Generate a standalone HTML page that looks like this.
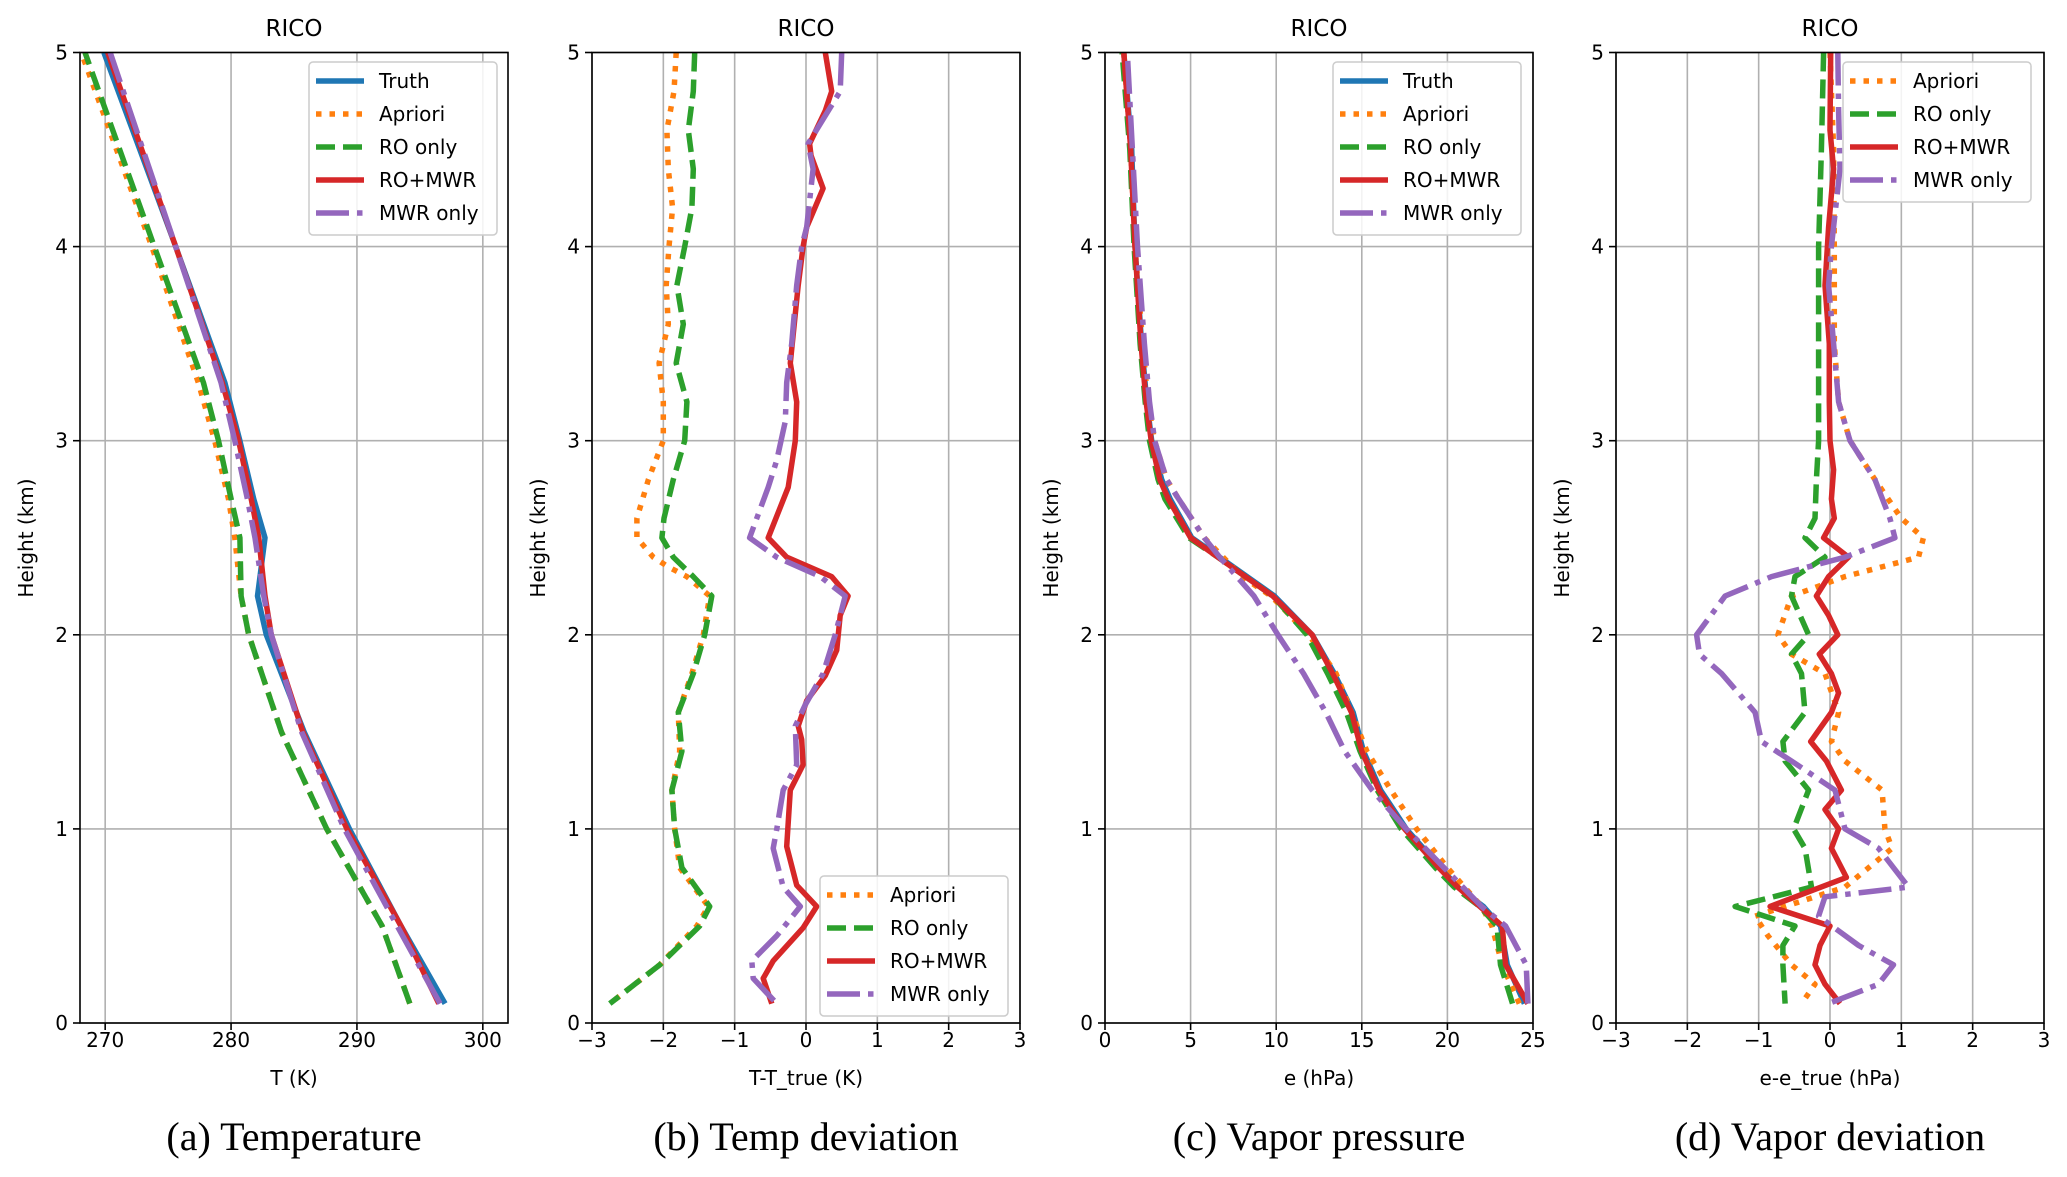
<!DOCTYPE html>
<html><head><meta charset="utf-8">
<style>
html,body{margin:0;padding:0;background:#fff;}
svg{display:block;}
text{font-family:"DejaVu Sans","Liberation Sans",sans-serif;fill:#000;}
.cap{font-family:"Liberation Serif",serif;}
</style></head>
<body>
<svg id="fig" width="2067" height="1177" viewBox="0 0 2067 1177" xmlns="http://www.w3.org/2000/svg"></svg>
<script>
// ---------- Panel (a) Temperature ----------
const tempHeights = [0.1,0.5,1.0,1.5,2.0,2.2,2.5,2.7,3.0,3.3,4.0,5.0];
const tempTruth   = [297.0,293.5,289.4,285.8,282.8,282.1,282.7,281.8,280.7,279.5,275.6,269.9];
const tempApriori = [294.2,292.0,287.6,284.0,281.4,280.8,280.3,279.8,278.7,277.4,273.7,268.1];
const tempRO      = [294.2,292.0,287.6,284.0,281.4,280.8,280.7,280.0,279.0,277.8,273.9,268.4];
const tempROMWR   = [296.5,293.5,289.2,285.7,283.2,282.7,282.2,281.6,280.6,279.3,275.6,270.2];
const tempMWR     = [296.6,293.2,289.0,285.6,283.2,282.6,281.9,281.3,280.3,279.2,275.6,270.4];
const tempTicks = [270,280,290,300];

// ---------- Panel (b) Temp deviation ----------
const dTAprioriH = [5.0,4.8,4.6,4.4,4.2,4.0,3.8,3.6,3.4,3.2,3.0,2.8,2.6,2.5,2.4,2.35,2.3,2.2,2.0,1.8,1.6,1.4,1.2,1.0,0.8,0.6,0.5,0.3,0.1];
const dTApriori  = [-1.82,-1.85,-1.95,-1.93,-1.87,-1.92,-1.96,-1.93,-2.06,-2.0,-2.0,-2.21,-2.37,-2.37,-2.14,-1.93,-1.67,-1.35,-1.44,-1.6,-1.79,-1.77,-1.88,-1.84,-1.77,-1.37,-1.53,-2.05,-2.75];
const dTROH = [5.0,4.8,4.6,4.4,4.2,4.0,3.8,3.6,3.4,3.2,3.0,2.8,2.6,2.5,2.4,2.3,2.2,2.0,1.8,1.6,1.4,1.2,1.0,0.8,0.6,0.5,0.3,0.1];
const dTRO  = [-1.56,-1.58,-1.65,-1.58,-1.6,-1.7,-1.81,-1.72,-1.82,-1.67,-1.7,-1.86,-1.99,-2.02,-1.86,-1.58,-1.32,-1.42,-1.58,-1.79,-1.74,-1.88,-1.84,-1.74,-1.35,-1.49,-2.05,-2.75];
const dTROMWRH = [5.0,4.8,4.7,4.53,4.47,4.3,4.1,4.0,3.8,3.4,3.2,3.0,2.76,2.5,2.4,2.3,2.2,2.1,1.92,1.79,1.66,1.53,1.46,1.33,1.2,0.91,0.71,0.6,0.49,0.32,0.23,0.1];
const dTROMWR  = [0.27,0.36,0.27,0.05,0.07,0.24,0.01,-0.04,-0.11,-0.22,-0.13,-0.15,-0.25,-0.53,-0.27,0.36,0.59,0.48,0.43,0.27,0.01,-0.11,-0.06,-0.04,-0.22,-0.27,-0.13,0.15,-0.04,-0.46,-0.6,-0.48];
const dTMWRH = [5.0,4.8,4.53,4.4,4.1,4.0,3.8,3.5,3.3,3.1,2.9,2.76,2.5,2.4,2.3,2.2,2.0,1.8,1.64,1.53,1.33,1.2,1.0,0.9,0.7,0.6,0.45,0.32,0.23,0.1];
const dTMWR  = [0.5,0.48,0.03,0.1,0.01,-0.06,-0.13,-0.2,-0.27,-0.29,-0.41,-0.53,-0.79,-0.41,0.2,0.55,0.41,0.24,-0.01,-0.15,-0.13,-0.32,-0.41,-0.46,-0.32,-0.08,-0.41,-0.76,-0.74,-0.41];
const devTicks = [-3,-2,-1,0,1,2,3];

// ---------- Panel (c) Vapor pressure ----------
const vapHeights = [0.1,0.3,0.5,0.6,0.7,0.8,1.0,1.2,1.4,1.6,1.8,2.0,2.2,2.3,2.4,2.5,2.7,2.8,3.0,3.2,3.5,4.0,4.5,5.0];
const vapTruth   = [24.5,23.5,23.1,22.1,20.6,19.6,17.6,16.1,15.1,14.5,13.4,12.1,9.9,8.3,6.7,5.07,3.8,3.31,2.73,2.44,2.14,1.75,1.56,1.1];
const vapApriori = [24.2,23.2,22.6,22.0,21.0,20.0,18.2,16.7,15.3,14.4,13.5,11.9,9.7,8.0,6.9,5.8,4.3,3.6,2.9,2.5,2.2,1.75,1.5,1.1];
const vapRO      = [23.8,23.1,22.9,21.9,20.4,19.3,17.3,15.9,14.9,14.1,13.0,11.8,9.8,8.2,6.6,4.9,3.5,3.1,2.6,2.35,2.05,1.7,1.45,1.0];
const vapROMWR   = [24.7,23.4,23.2,21.9,20.6,19.5,17.5,16.0,15.0,14.4,13.3,12.1,9.8,8.2,6.6,5.0,3.7,3.2,2.7,2.4,2.1,1.75,1.5,1.1];
const vapMWR     = [24.7,24.6,23.4,22.0,20.9,19.8,17.6,15.6,14.0,12.9,11.6,10.1,8.7,7.7,6.7,5.8,4.3,3.6,2.9,2.6,2.3,1.9,1.6,1.3];
const vapTicks = [0,5,10,15,20,25];

// ---------- Panel (d) Vapor deviation ----------
const dEAprioriH = [5.0,4.5,4.0,3.5,3.2,3.0,2.8,2.6,2.5,2.4,2.3,2.2,2.0,1.9,1.8,1.6,1.45,1.35,1.2,1.0,0.9,0.7,0.55,0.45,0.3,0.2,0.1];
const dEApriori  = [0,0.05,0.06,0.06,0.12,0.28,0.63,1.0,1.31,1.24,0.21,-0.54,-0.73,-0.54,-0.07,0.12,0.02,0.21,0.73,0.77,0.87,0.21,-1.05,-0.87,-0.54,-0.21,-0.4];
const dEROH = [5.0,4.5,4.0,3.5,3.0,2.8,2.6,2.5,2.4,2.3,2.2,2.0,1.9,1.8,1.6,1.45,1.35,1.2,1.0,0.9,0.7,0.6,0.5,0.4,0.3,0.1];
const dERO  = [-0.09,-0.12,-0.16,-0.16,-0.16,-0.19,-0.21,-0.35,-0.07,-0.49,-0.54,-0.3,-0.54,-0.4,-0.35,-0.66,-0.63,-0.3,-0.51,-0.35,-0.26,-1.33,-0.49,-0.66,-0.66,-0.63];
const dEROMWRH = [5.0,4.6,4.4,4.1,3.8,3.5,3.2,3.0,2.85,2.7,2.6,2.5,2.4,2.3,2.2,2.1,2.0,1.9,1.8,1.7,1.6,1.45,1.35,1.2,1.1,1.0,0.9,0.75,0.6,0.5,0.4,0.3,0.2,0.1];
const dEROMWR  = [0.01,0,0.05,-0.02,-0.07,-0.01,-0.01,0,0.05,0.02,0.06,-0.09,0.26,-0.02,-0.19,-0.02,0.11,-0.15,0.02,0.12,0.02,-0.27,-0.05,0.16,-0.07,0.12,0.02,0.23,-0.84,0,-0.14,-0.21,-0.07,0.14];
const dEMWRH = [5.0,4.7,4.4,4.0,3.8,3.5,3.2,3.0,2.8,2.6,2.5,2.4,2.3,2.2,2.0,1.9,1.8,1.6,1.45,1.35,1.2,1.0,0.9,0.7,0.65,0.55,0.4,0.3,0.2,0.1];
const dEMWR  = [0.11,0.12,0.14,0.02,-0.02,0.05,0.12,0.28,0.63,0.84,0.91,0.21,-0.82,-1.47,-1.87,-1.83,-1.52,-1.05,-0.96,-0.54,0.07,0.21,0.68,1.1,-0.07,-0.16,0.4,0.89,0.68,-0.02];

const heightTicks = [0,1,2,3,4,5];

const NS = 'http://www.w3.org/2000/svg';
const svg = document.getElementById('fig');
const TOP = 52.5, BOT = 1023;
const STY = {
  truth:  {c:'#1f77b4', d:null, label:'Truth'},
  apriori:{c:'#ff7f0e', d:'5.5 8', label:'Apriori'},
  ro:     {c:'#2ca02c', d:'19 8', label:'RO only'},
  romwr:  {c:'#d62728', d:null, label:'RO+MWR'},
  mwr:    {c:'#9467bd', d:'33 8 5.5 8', label:'MWR only'}
};
function mk(tag, attrs, parent){
  const e = document.createElementNS(NS, tag);
  for (const k in attrs) e.setAttribute(k, attrs[k]);
  (parent||svg).appendChild(e);
  return e;
}
function panel(p){
  const g = mk('g', {});
  
  
  const L = p.left, R = p.left + 428;
  const xs = v => L + (v - p.xmin) / (p.xmax - p.xmin) * (R - L);
  const ys = h => BOT - h / 5 * (BOT - TOP);
  p.xticks.forEach(t => {
    const gl = mk('line', {x1:xs(t), x2:xs(t), y1:TOP, y2:BOT, stroke:'#b0b0b0', 'stroke-width':1.6}, g);
    
    
  });
  heightTicks.forEach(t => {
    const gl = mk('line', {x1:L, x2:R, y1:ys(t), y2:ys(t), stroke:'#b0b0b0', 'stroke-width':1.6}, g);
    
    
  });
  const cp = mk('clipPath', {id:'clip-' + p.id}, g);
  mk('rect', {x:L, y:TOP, width:R-L, height:BOT-TOP}, cp);
  const sg = mk('g', {'clip-path':'url(#clip-' + p.id + ')'}, g);
  p.series.forEach(s => {
    const st = STY[s.key];
    const pts = s.h.map((h, i) => xs(s.v[i]).toFixed(1) + ',' + ys(h).toFixed(1)).join(' ');
    const attrs = {points:pts, fill:'none', stroke:st.c, 'stroke-width':5.5, 'stroke-linejoin':'round'};
    if (st.d) attrs['stroke-dasharray'] = st.d;
    const pl = mk('polyline', attrs, sg);
    
    
  });
  const fr = mk('rect', {x:L, y:TOP, width:R-L, height:BOT-TOP, fill:'none', stroke:'#000', 'stroke-width':1.6}, g);
  
  
  p.xticks.forEach(t => {
    mk('line', {x1:xs(t), x2:xs(t), y1:BOT, y2:BOT+7, stroke:'#000', 'stroke-width':1.6}, g);
    const tl = mk('text', {x:xs(t), y:1047, 'font-size':20, 'text-anchor':'middle'}, g);
    tl.textContent = t < 0 ? '\u2212' + Math.abs(t) : String(t);
    
    
  });
  heightTicks.forEach(t => {
    mk('line', {x1:L-7, x2:L, y1:ys(t), y2:ys(t), stroke:'#000', 'stroke-width':1.6}, g);
    const tl = mk('text', {x:L-12, y:ys(t)+7, 'font-size':20, 'text-anchor':'end'}, g);
    tl.textContent = String(t);
    
    
  });
  const cx = (L + R) / 2;
  const ti = mk('text', {x:cx, y:36, 'font-size':23, 'text-anchor':'middle'}, g);
  ti.textContent = 'RICO';
  
  
  const xl = mk('text', {x:cx, y:1085, 'font-size':20, 'text-anchor':'middle'}, g);
  xl.textContent = p.xlabel;
  
  
  const yl = mk('text', {x:0, y:0, 'font-size':20, 'text-anchor':'middle', transform:'translate(' + (L-47) + ',538) rotate(-90)'}, g);
  yl.textContent = 'Height (km)';
  
  
  const cap = mk('text', {x:cx, y:1150, 'font-size':40, 'text-anchor':'middle', 'class':'cap'}, g);
  cap.textContent = p.caption;
  
  
  const lg = mk('g', {}, g);
  
  
  const n = p.series.length;
  mk('rect', {x:p.lx, y:p.ly, width:188, height:n*33+8, rx:4, fill:'#fff', 'fill-opacity':0.85, stroke:'#cccccc', 'stroke-width':1.5}, lg);
  p.series.forEach((s, i) => {
    const st = STY[s.key];
    const yy = p.ly + 19 + i*33;
    const la = {x1:p.lx+7, x2:p.lx+55, y1:yy, y2:yy, stroke:st.c, 'stroke-width':5.5};
    if (st.d) la['stroke-dasharray'] = st.d;
    const le = mk('g', {}, lg);
    
    
    mk('line', la, le);
    const tx = mk('text', {x:p.lx+70, y:yy+7, 'font-size':20}, le);
    tx.textContent = st.label;
  });
}
panel({id:'temperature', left:80, xmin:268, xmax:302, xticks:tempTicks, xlabel:'T (K)', caption:'(a) Temperature', lx:309, ly:62,
  series:[{key:'truth',h:tempHeights,v:tempTruth},{key:'apriori',h:tempHeights,v:tempApriori},{key:'ro',h:tempHeights,v:tempRO},{key:'romwr',h:tempHeights,v:tempROMWR},{key:'mwr',h:tempHeights,v:tempMWR}]});
panel({id:'temp-deviation', left:592, xmin:-3, xmax:3, xticks:devTicks, xlabel:'T-T_true (K)', caption:'(b) Temp deviation', lx:820, ly:876,
  series:[{key:'apriori',h:dTAprioriH,v:dTApriori},{key:'ro',h:dTROH,v:dTRO},{key:'romwr',h:dTROMWRH,v:dTROMWR},{key:'mwr',h:dTMWRH,v:dTMWR}]});
panel({id:'vapor-pressure', left:1105, xmin:0, xmax:25, xticks:vapTicks, xlabel:'e (hPa)', caption:'(c) Vapor pressure', lx:1333, ly:62,
  series:[{key:'truth',h:vapHeights,v:vapTruth},{key:'apriori',h:vapHeights,v:vapApriori},{key:'ro',h:vapHeights,v:vapRO},{key:'romwr',h:vapHeights,v:vapROMWR},{key:'mwr',h:vapHeights,v:vapMWR}]});
panel({id:'vapor-deviation', left:1616, xmin:-3, xmax:3, xticks:devTicks, xlabel:'e-e_true (hPa)', caption:'(d) Vapor deviation', lx:1843, ly:62,
  series:[{key:'apriori',h:dEAprioriH,v:dEApriori},{key:'ro',h:dEROH,v:dERO},{key:'romwr',h:dEROMWRH,v:dEROMWR},{key:'mwr',h:dEMWRH,v:dEMWR}]});
</script>
</body></html>
